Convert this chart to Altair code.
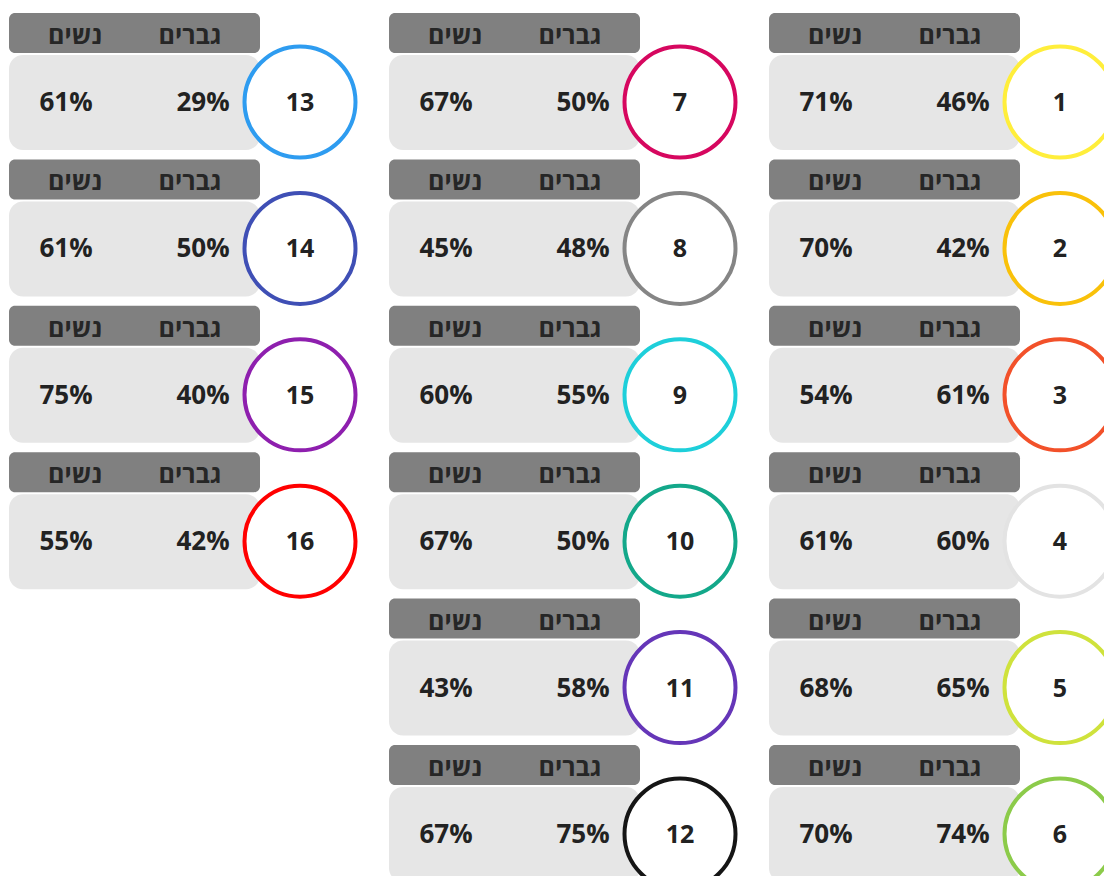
import altair as alt
import pandas as pd

# ---- data ----
ids = list(range(1, 17))
men = [46, 42, 61, 60, 65, 74, 50, 48, 55, 50, 58, 75, 29, 50, 40, 42]
women = [71, 70, 54, 61, 68, 70, 67, 45, 60, 67, 43, 67, 61, 61, 75, 55]
ring_colors = [
    "#FFEE3B", "#F9C10A", "#F2512A", "#E3E3E3", "#CFE23C", "#8CCB4A",
    "#D6075F", "#858585", "#1ECFDA", "#13A88A", "#6536B8", "#151515",
    "#2E9CF0", "#3F4FB5", "#8E1FAE", "#FF0000",
]
label_men = "גברים"
label_women = "נשים"

# ---- layout (derived from card index) ----
COL_STEP = 380
ROW_STEP = 146.4
LEFT0 = 9
TOP0 = 13
CARD_W = 251

rows = []
for i, m, w, c in zip(ids, men, women, ring_colors):
    col = 2 - (i - 1) // 6
    row = (i - 1) % 6
    left = LEFT0 + col * COL_STEP
    top = TOP0 + row * ROW_STEP
    rows.append(dict(
        id=str(i), men=f"{m}%", women=f"{w}%", color=c,
        hx=left, hx2=left + CARD_W, hy=top, hy2=top + 40,
        by=top + 42, by2=top + 137,
        cx=left + CARD_W + 40, cy=top + 89, ty=top + 90,
        wx=left + 57, mx=left + 194,
        hwx=left + 66, hmx=left + 181, hty=top + 23,
        lw=label_women, lm=label_men,
    ))
df = pd.DataFrame(rows)

xs = alt.Scale(domain=[8, 1104])
ys = alt.Scale(domain=[8, 876], reverse=True)
FONT = "Open Sans"

base = alt.Chart(df)

header = base.mark_rect(color="#808080", cornerRadius=6).encode(
    x=alt.X("hx:Q", scale=xs, axis=None), x2="hx2:Q",
    y=alt.Y("hy:Q", scale=ys, axis=None), y2="hy2:Q",
)
body = base.mark_rect(color="#E6E6E6", cornerRadius=14).encode(
    x=alt.X("hx:Q", scale=xs, axis=None), x2="hx2:Q",
    y=alt.Y("by:Q", scale=ys, axis=None), y2="by2:Q",
)
ring = base.mark_point(shape="circle", filled=True, fill="white", strokeWidth=4,
                       size=12321, opacity=1).encode(
    x=alt.X("cx:Q", scale=xs, axis=None),
    y=alt.Y("cy:Q", scale=ys, axis=None),
    stroke=alt.Color("color:N", scale=None, legend=None),
)
num = base.mark_text(font=FONT, fontSize=25, fontWeight="bold", color="#222222",
                     baseline="middle", align="center").encode(
    x=alt.X("cx:Q", scale=xs, axis=None),
    y=alt.Y("ty:Q", scale=ys, axis=None),
    text="id:N",
)
wtxt = base.mark_text(font=FONT, fontSize=26, fontWeight="bold", color="#222222",
                      baseline="middle", align="center").encode(
    x=alt.X("wx:Q", scale=xs, axis=None),
    y=alt.Y("ty:Q", scale=ys, axis=None),
    text="women:N",
)
mtxt = base.mark_text(font=FONT, fontSize=26, fontWeight="bold", color="#222222",
                      baseline="middle", align="center").encode(
    x=alt.X("mx:Q", scale=xs, axis=None),
    y=alt.Y("ty:Q", scale=ys, axis=None),
    text="men:N",
)
hw = base.mark_text(font=FONT, fontSize=25, fontWeight="bold", color="#262626",
                    baseline="middle", align="center").encode(
    x=alt.X("hwx:Q", scale=xs, axis=None),
    y=alt.Y("hty:Q", scale=ys, axis=None),
    text="lw:N",
)
hm = base.mark_text(font=FONT, fontSize=25, fontWeight="bold", color="#262626",
                    baseline="middle", align="center").encode(
    x=alt.X("hmx:Q", scale=xs, axis=None),
    y=alt.Y("hty:Q", scale=ys, axis=None),
    text="lm:N",
)

chart = alt.layer(header, body, ring, num, wtxt, mtxt, hw, hm).properties(
    width=1096, height=868, autosize=alt.AutoSizeParams(type="none"), padding=0,
).configure_view(stroke=None)

chart.save("out.html", embed_options={"renderer": "svg", "actions": False})
